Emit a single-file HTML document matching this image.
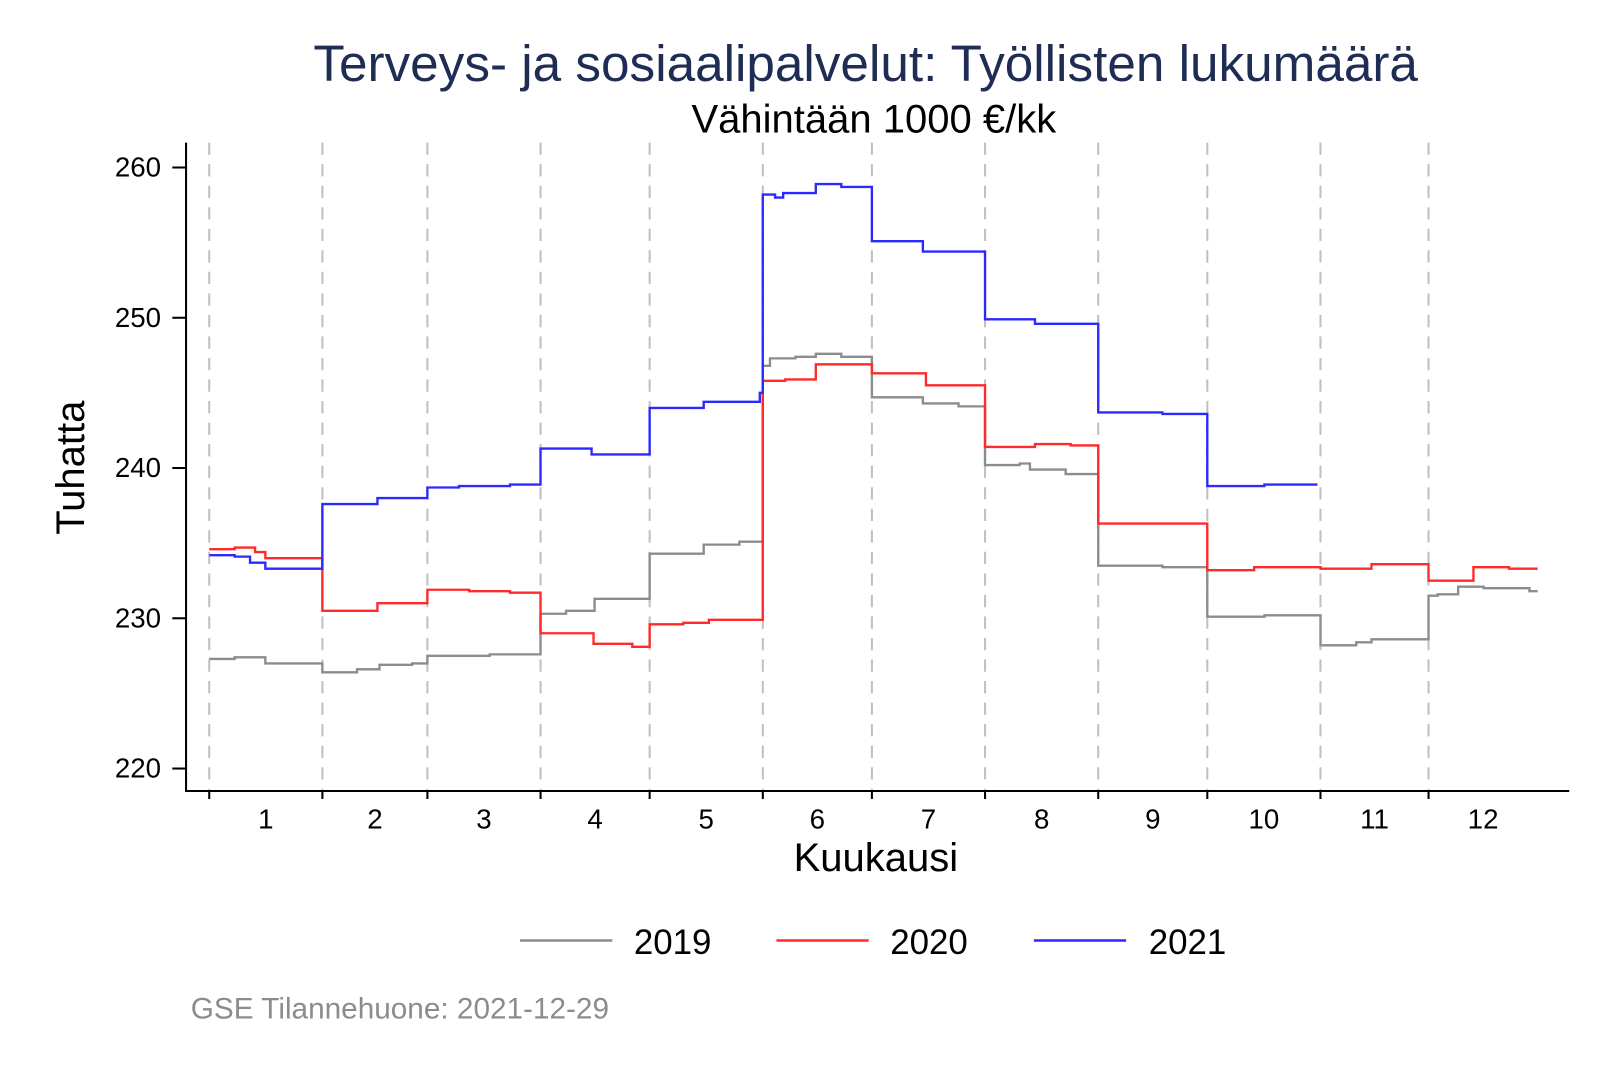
<!DOCTYPE html>
<html><head><meta charset="utf-8"><style>
html,body{margin:0;padding:0;background:#fff;}
svg{display:block;font-family:"Liberation Sans",Arial,sans-serif;}
</style></head><body>
<svg id="s" width="1600" height="1067" viewBox="0 0 1560 1040.3" xmlns="http://www.w3.org/2000/svg">
<rect width="1560" height="1040.3" fill="#fff"/>
<text x="844" y="79" text-anchor="middle" font-size="50" fill="#1f2d54">Terveys- ja sosiaalipalvelut: Työllisten lukumäärä</text>
<text x="852" y="129" text-anchor="middle" font-size="39" fill="#000">Vähintään 1000 €/kk</text>
<g id="grid" stroke="#c0c0c0" stroke-width="2" stroke-dasharray="12,9"></g>
<g id="ax" stroke="#000" stroke-width="2" fill="none">
<path d="M181.4 139V771.2H1530"/>
</g>
<g id="lbl" font-size="27" fill="#000"></g>
<g id="data" fill="none" stroke-width="2.3"></g>
<text x="854" y="849" text-anchor="middle" font-size="39">Kuukausi</text>
<text transform="translate(82,456) rotate(-90)" text-anchor="middle" font-size="39">Tuhatta</text>
<g font-size="34">
<line x1="507" y1="917" x2="597" y2="917" stroke="#8c8c8c" stroke-width="2.5"/><text x="618" y="930">2019</text>
<line x1="757" y1="917" x2="847" y2="917" stroke="#ff2a2a" stroke-width="2.5"/><text x="868" y="930">2020</text>
<line x1="1008" y1="917" x2="1098" y2="917" stroke="#2a2aff" stroke-width="2.5"/><text x="1120" y="930">2021</text>
</g>
<text x="186" y="993" font-size="29" fill="#8c8c8c">GSE Tilannehuone: 2021-12-29</text>
</svg>
<script>
const NS="http://www.w3.org/2000/svg";
function Y(v){return 749.3-(v-220)*14.65;}
function X(x){return 0.994*(x-205)+204;}
function el(p,t,a,txt){const e=document.createElementNS(NS,t);for(const k in a)e.setAttribute(k,a[k]);if(txt!==undefined)e.textContent=txt;p.appendChild(e);return e;}
const B=[205,316,419,530,637,748,855,966,1077,1184,1295,1401];
const ends=B.concat([1508]);
const g=document.getElementById('grid'),ax=document.getElementById('ax'),lb=document.getElementById('lbl');
B.forEach(x=>{el(g,'line',{x1:X(x),y1:139,x2:X(x),y2:771});el(ax,'line',{x1:X(x),y1:771,x2:X(x),y2:779});});
for(let i=0;i<12;i++){el(lb,'text',{x:X((ends[i]+ends[i+1])/2),y:808,'text-anchor':'middle'},String(i+1));}
[220,230,240,250,260].forEach(v=>{const y=Y(v);el(ax,'line',{x1:168,y1:y,x2:181.4,y2:y});el(lb,'text',{x:157,y:y+9,'text-anchor':'end'},String(v));});
const S={
'#8c8c8c':[[205,227.3],[230,227.4],[260,227.0],[316,226.4],[350,226.6],[372,226.9],[404,227.0],[419,227.5],[480,227.6],[530,230.3],[555,230.5],[583,231.3],[637,234.3],[690,234.9],[725,235.1],[748,246.8],[755,247.3],[780,247.4],[800,247.6],[825,247.4],[855,244.7],[905,244.3],[940,244.1],[966,240.2],[1000,240.3],[1010,239.9],[1045,239.6],[1077,233.5],[1140,233.4],[1184,230.1],[1240,230.2],[1295,228.2],[1330,228.4],[1345,228.6],[1401,231.5],[1410,231.6],[1430,232.1],[1455,232.0],[1500,231.8],[1508,null]],
'#ff2a2a':[[205,234.6],[230,234.7],[250,234.4],[260,234.0],[316,230.5],[370,231.0],[419,231.9],[460,231.8],[500,231.7],[530,229.0],[582,228.3],[620,228.1],[637,229.6],[670,229.7],[695,229.9],[748,245.8],[770,245.9],[800,246.9],[855,246.3],[908,245.5],[966,241.4],[1015,241.6],[1050,241.5],[1077,236.3],[1184,233.2],[1230,233.4],[1295,233.3],[1345,233.6],[1401,232.5],[1445,233.4],[1480,233.3],[1508,null]],
'#2a2aff':[[205,234.2],[230,234.1],[245,233.7],[260,233.3],[316,237.6],[370,238.0],[419,238.7],[450,238.8],[500,238.9],[530,241.3],[580,240.9],[637,244.0],[690,244.4],[745,245.0],[748,258.2],[760,258.0],[768,258.3],[800,258.9],[825,258.7],[855,255.1],[905,254.4],[966,249.9],[1015,249.6],[1077,243.7],[1140,243.6],[1184,238.8],[1240,238.9],[1292,null]]};
const d=document.getElementById('data');
for(const c in S){const a=S[c];let p='M'+X(a[0][0]).toFixed(1)+' '+Y(a[0][1]).toFixed(1);
for(let i=1;i<a.length;i++){p+='H'+X(a[i][0]).toFixed(1);if(a[i][1]!==null)p+='V'+Y(a[i][1]).toFixed(1);}
el(d,'path',{d:p,stroke:c});}
</script>
</body></html>
